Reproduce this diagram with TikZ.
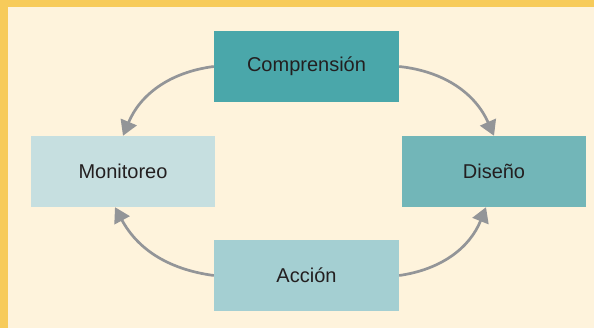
\documentclass[tikz,border=0pt]{standalone}
\usepackage{fontspec}
\setmainfont{Liberation Sans}
\usetikzlibrary{arrows.meta}

\definecolor{frameyellow}{HTML}{F7CB5A}
\definecolor{paper}{HTML}{FEF3DC}
\definecolor{tealdark}{HTML}{4AA7AA}
\definecolor{tealmid}{HTML}{72B6B8}
\definecolor{teallight}{HTML}{A4CFD2}
\definecolor{tealpale}{HTML}{C6DFE0}
\definecolor{arrowgray}{HTML}{939598}
\definecolor{textgray}{HTML}{231F20}

\begin{document}
\begin{tikzpicture}[x=1pt,y=1pt,
  stage/.style={rectangle, minimum width=185pt, minimum height=71pt, inner sep=0pt,
    text=textgray, font=\fontsize{20}{24}\selectfont},
  cycle/.style={draw=arrowgray, line width=2.7pt,
    -{Triangle[length=15pt,width=17pt]}}]

\useasboundingbox (0,0) rectangle (594,328);
\fill[frameyellow] (0,0) rectangle (594,328);
\fill[paper] (8,0) rectangle (594,320.7);

\node[stage, fill=tealdark] (compr) at (306.5,261.5) {Comprensión};
\node[stage, fill=tealpale, minimum width=184pt] (monit) at (123,156.5) {Monitoreo};
\node[stage, fill=tealmid, minimum width=184pt] (diseno) at (494,156.5) {Diseño};
\node[stage, fill=teallight] (accion) at (306.5,52.5) {Acción};

\draw[cycle] (compr.west) to[bend right=30] (monit.north);
\draw[cycle] (compr.east) to[bend left=30] (diseno.north);
\draw[cycle] (accion.west) to[bend left=27] ([xshift=-8pt]monit.south);
\draw[cycle] (accion.east) to[bend right=30] ([xshift=-8pt]diseno.south);

\end{tikzpicture}
\end{document}
